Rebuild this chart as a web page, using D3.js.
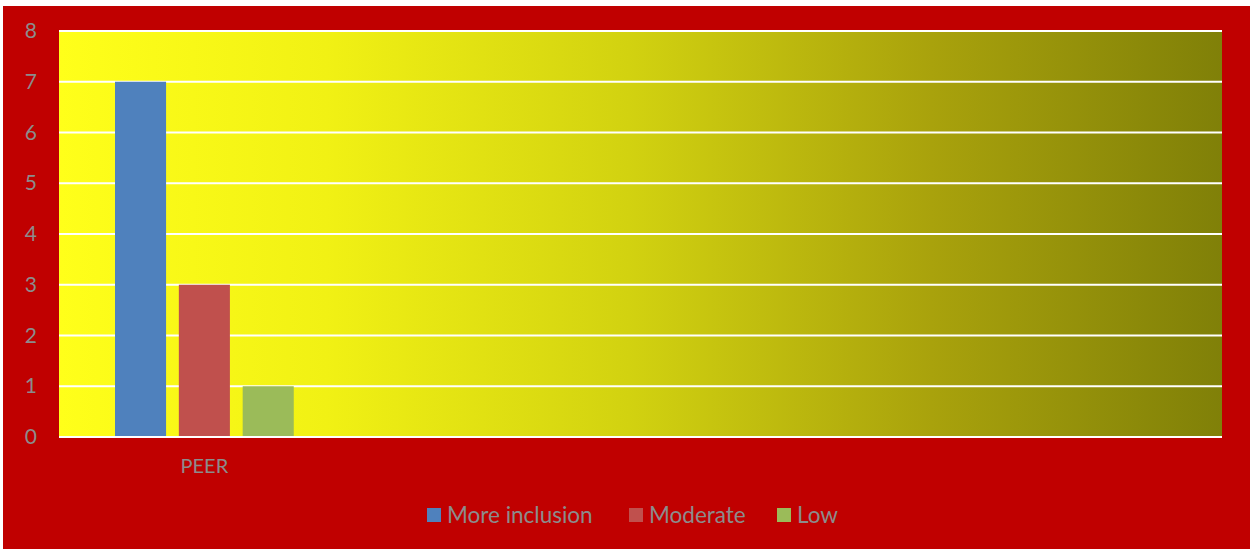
<!DOCTYPE html>
<html>
<head>
<meta charset="utf-8">
<script src="https://cdn.jsdelivr.net/npm/d3@7"></script>
<style>
	html, body { margin: 0; padding: 0; background: #fff; }
	svg { display: block; }
</style>
</head>
<body>
<svg id="chart"></svg>
<script>
const categories = ['PEER', '', ' ', '  '];
const seriesNames = ['More inclusion', 'Moderate', 'Low'];
const seriesValues = [[7], [3], [1]];
const seriesColors = ['#4F81BD', '#C0504D', '#9BBB59'];
const yTicks = [0, 1, 2, 3, 4, 5, 6, 7, 8];

const width = 1256;
const height = 549;
const margin = { top: 31, right: 34, bottom: 112, left: 59 };
const textColor = '#8C8C8C';
const font = 'Lato, "Open Sans", sans-serif';

const svg = d3.select('#chart').attr('width', width)
	.attr('height', height);

svg.append('rect')
	.attr('x', 3)
	.attr('y', 6)
	.attr('width', 1247)
	.attr('height', 543)
	.attr('fill', '#C00000');

const defs = svg.append('defs');
const grad = defs.append('linearGradient').attr('id', 'bg')
	.attr('x1', '0%')
	.attr('x2', '100%')
	.attr('y1', '0%')
	.attr('y2', '0%');
[['0%', '#FFFF1A'], ['23%', '#F1F114'], ['49%', '#D2D210'], ['75%', '#A9A20C'], ['100%', '#808008']]
	.forEach(([o, c]) => grad.append('stop').attr('offset', o)
		.attr('stop-color', c));

const innerW = width - margin.left - margin.right;
const innerH = height - margin.top - margin.bottom;

const x = d3.scaleBand().domain(categories)
	.range([0, innerW]);
const x1 = d3.scaleBand().domain(seriesNames)
	.range([56, x.bandwidth() - 56])
	.paddingInner(0.2);
const y = d3.scaleLinear().domain([0, 8])
	.range([innerH, 0]);

const g = svg.append('g')
	.attr('transform', `translate(${ margin.left }, ${ margin.top })`);

g.append('rect')
	.attr('width', innerW)
	.attr('height', innerH)
	.attr('fill', 'url(#bg)');

// gridlines
g.append('g')
	.selectAll('line')
	.data(yTicks)
	.join('line')
	.attr('x1', 0)
	.attr('x2', innerW)
	.attr('y1', (d) => y(d))
	.attr('y2', (d) => y(d))
	.attr('stroke', '#fff')
	.attr('stroke-width', 2);

// y labels
const yAxis = g.append('g').call(d3.axisLeft(y).tickValues(yTicks)
	.tickSize(0)
	.tickPadding(22));
yAxis.select('.domain').remove();
yAxis.selectAll('text')
	.attr('fill', textColor)
	.style('font-family', font)
	.style('font-size', '21px');

// bars
const groups = g.selectAll('.cat')
	.data(categories.filter((c, i) => i < seriesValues[0].length))
	.join('g')
	.attr('class', 'cat')
	.attr('transform', (d) => `translate(${ x(d) }, 0)`);

groups.selectAll('rect')
	.data((d, ci) => seriesNames.map((s, si) => ({ s, v: seriesValues[si][ci], c: seriesColors[si] })))
	.join('rect')
	.attr('x', (d) => x1(d.s))
	.attr('width', x1.bandwidth())
	.attr('y', (d) => y(d.v))
	.attr('height', (d) => y(0) - y(d.v))
	.attr('fill', (d) => d.c);

// x axis line
g.append('line')
	.attr('x1', 0)
	.attr('x2', innerW)
	.attr('y1', y(0))
	.attr('y2', y(0))
	.attr('stroke', '#fff')
	.attr('stroke-width', 2);

const xAxis = g.append('g').attr('transform', `translate(0, ${ innerH })`)
	.call(d3.axisBottom(x).tickSize(0)
		.tickPadding(22));
xAxis.select('.domain').remove();
xAxis.selectAll('text')
	.attr('fill', textColor)
	.style('font-family', font)
	.style('font-size', '20px');

// legend
const legendX = [427, 629, 777];
const legend = svg.append('g');
const items = legend.selectAll('g')
	.data(seriesNames)
	.join('g')
	.attr('transform', (d, i) => `translate(${ legendX[i] }, 508)`);
items.append('rect')
	.attr('width', 14)
	.attr('height', 14)
	.attr('fill', (d, i) => seriesColors[i]);
items.append('text')
	.attr('x', 20)
	.attr('y', 15)
	.attr('fill', textColor)
	.style('font-family', font)
	.style('font-size', '22.5px')
	.text((d) => d);
</script>
</body>
</html>
